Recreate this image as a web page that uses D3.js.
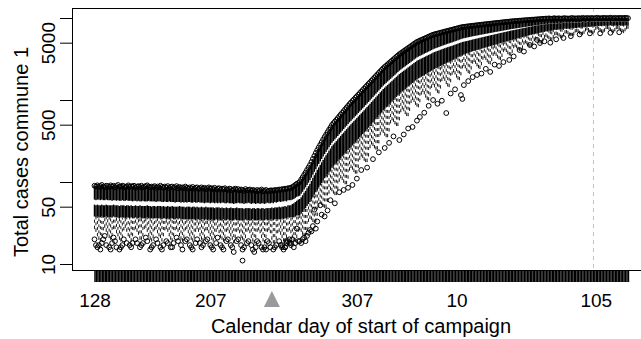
<!DOCTYPE html>
<html><head><meta charset="utf-8">
<script src="https://cdn.jsdelivr.net/npm/d3@7"></script>
<style>html,body{margin:0;padding:0;background:#fff;}svg{display:block;}</style>
</head><body>
<svg id="c" width="641" height="339"></svg>
<script>
// ---- categories: calendar day of start of campaign (128..365, then 1..127)
const days = d3.range(128, 366).concat(d3.range(1, 128));
const tickDays = [128, 207, 307, 10, 105];
const yTickValues = [10, 50, 100, 500, 1000, 5000, 10000];
const yTickLabels = ["10", "50", "", "500", "", "5000", ""];
const campaignDay = 249;   // grey arrow
const markerDay = 103;     // dashed grey line

// ---- per-day box statistics (total cases)
const upperMax = [
90,88,91,87,89,92,88,86,90,89,87,91,88,90,86,89,92,87,88,90,
89,86,88,91,87,89,88,90,85,88,89,87,90,86,88,89,91,87,86,88,
87,89,85,88,86,90,87,85,88,86,89,84,87,88,85,86,89,84,87,85,
86,84,88,85,83,86,84,87,83,85,86,82,84,86,83,85,82,84,86,83,
84,82,85,81,83,84,80,83,82,84,81,80,83,82,79,81,83,80,82,79,
81,80,78,82,79,80,81,78,80,79,77,80,78,79,81,77,78,80,77,78,79,
79,78,80,79,80,81,80,82,81,83,82,84,84,
85,87,89,92,95,97,100,107,114,122,130,140,150,161,
175,191,208,226,245,264,284,306,330,354,
378,405,433,462,495,520,546,573,601,631,664,697,731,769,807,847,891,
931,973,1016,1062,1109,1159,1211,1265,1321,1380,1442,1507,
1574,1644,1718,1795,1875,1959,2046,2138,2234,2333,2438,
2529,2618,2716,2812,2917,3020,3133,3243,3365,3483,3614,
3715,3828,3936,4055,4169,4295,4416,4550,4677,4819,4955,5105,
5200,5297,5395,5495,5598,5702,5808,5916,6026,6138,6252,
6324,6397,6457,6531,6607,6668,6745,6823,6902,6966,7047,7129,7194,7278,7362,7430,7516,7603,7674,7762,
7800,7840,7880,7920,7960,8000,8040,8080,8120,8160,8200,8240,8280,8320,8360,8400,8440,8480,8520,8560,
8600,8640,8680,8720,8760,8800,8840,8880,8920,8960,9000,9040,9080,9120,
9150,9180,9210,9240,9270,9300,9330,9360,9390,9420,9450,9480,9510,9540,9570,9600,9630,9660,9690,
9720,9800,9750,9850,9780,9900,9820,9760,9880,9940,9800,9860,9920,9780,9850,9900,9960,9820,9880,9790,
9940,10000,9860,9910,9830,9970,9900,9850,10050,9920,9880,9990,9950,9870,10020,9930,9890,9980,10060,9910,
9960,9880,10030,9940,10000,9900,9970,10080,9950,9920,10010,9980,9900,10040,9960,10000,9930,10050,9990,9950
];
const upperMin = [
61,60,61,61,60,61,60,60,61,60,60,60,59,60,60,59,60,59,59,60,
59,59,60,59,59,59,58,59,59,58,59,58,58,59,58,58,58,59,58,58,
58,58,57,58,58,58,57,57,58,57,57,58,57,57,57,56,57,57,57,56,
57,56,57,56,57,57,56,56,57,56,56,57,56,56,56,55,56,56,56,55,
56,56,55,56,55,56,55,56,56,55,55,56,55,55,55,54,55,55,56,55,
55,55,54,55,55,56,55,54,55,55,54,55,55,54,55,55,54,55,56,55,55,
56,55,57,56,57,58,57,58,58,59,58,60,60,
60,61,62,64,66,67,68,72,76,81,86,92,98,105,
113,123,133,143,155,166,178,191,205,219,
233,248,265,282,301,316,331,347,364,382,401,421,441,463,485,509,534,
557,582,608,635,663,694,725,757,791,826,867,906,
946,990,1039,1086,1136,1190,1245,1305,1367,1430,1498,
1558,1617,1680,1743,1812,1881,1955,2028,2110,2190,2280,
2350,2430,2500,2580,2660,2750,2830,2920,3010,3110,3200,3310,
3380,3450,3520,3590,3670,3750,3820,3900,3980,4060,4160,
4230,4300,4360,4430,4500,4570,4640,4710,4780,4850,4920,4980,
5043,5124,5205,5275,5359,5444,5518,5604,5663,5715,5768,5821,5874,5928,5982,6028,6074,6120,6166,6221,
6268,6315,6370,6418,6465,6513,6569,6617,6665,6722,6770,6819,6877,6926,6975,7033,7082,7132,7191,7241,
7300,7351,7402,7445,7497,7540,7592,7645,7688,7741,7784,7837,7891,7944,7988,8042,8096,8141,8186,8230,
8275,8320,8408,8385,8501,8460,8583,8534,8501,8625,8698,8595,8667,8749,8636,8707,8762,8825,8720,8783,
8713,8857,8920,8815,8869,8808,8943,8890,8855,9045,8948,8922,9031,9005,8942,9088,9016,9000,9092,9175,
9048,9103,9040,9180,9090,9150,9060,9120,9220,9100,9080,9160,9130,9060,9190,9110,9150,9090,9200,9140,9100
];
const q3 = [
53,52,53,52,52,53,52,52,53,52,52,52,52,53,52,52,52,51,52,52,
52,51,52,52,51,52,51,51,52,51,51,52,51,51,51,51,52,51,51,50,
51,51,50,51,51,51,50,51,50,50,51,50,50,51,50,50,50,50,51,50,
50,50,49,50,50,50,49,50,50,49,50,49,49,50,49,49,50,49,49,49,
49,49,48,49,49,49,48,49,48,48,49,48,48,49,48,48,48,49,48,48,
48,48,47,48,48,48,48,47,48,48,47,48,48,47,48,48,47,48,48,48,48,
49,48,49,49,49,50,49,50,50,51,50,52,52,
52,54,55,57,59,61,62,65,69,74,78,84,89,95,
103,112,121,130,141,151,162,174,186,199,
212,225,241,256,274,287,301,315,331,347,365,383,401,421,441,463,485,
506,529,553,577,603,631,659,688,719,751,788,824,
860,900,945,987,1033,1082,1132,1186,1243,1300,1362,
1416,1470,1527,1585,1647,1710,1777,1844,1918,1991,2073,
2136,2209,2273,2345,2418,2500,2573,2655,2736,2827,2909,3009,
3073,3136,3200,3264,3336,3409,3473,3545,3618,3691,3782,
3845,3909,3964,4027,4091,4155,4218,4282,4345,4409,4473,4527,
4585,4658,4732,4795,4872,4949,5016,5095,5148,5195,5244,5292,
5350,5409,5468,5520,5572,5625,5678,5739,5793,5847,
5909,5965,6020,6076,6139,6196,6252,6318,6375,6433,
6500,6559,6618,6685,6745,6805,6875,6936,7006,7068,
7131,7186,7250,7306,7371,7437,7493,7560,7616,7683,
7752,7819,7878,7947,8016,8083,8128,8172,
8227,8272,8359,8336,8451,8411,8534,8484,8452,8576,8658,8555,8628,8710,8597,8668,8722,8785,8681,8744,
8674,8817,8890,8775,8830,8768,8903,8851,8816,9005,8908,8882,8991,8965,8913,9058,8987,8960,9052,9134,
9008,9074,9010,9150,9070,9120,9030,9090,9190,9070,9050,9130,9100,9030,9160,9080,9120,9060,9170,9110,9070
];
const q1 = [
38,37,38,37,37,38,37,37,38,37,37,37,37,38,37,37,37,36,37,37,
37,36,37,37,36,37,36,36,37,36,36,37,36,36,36,36,37,36,36,36,
36,36,36,36,36,36,35,36,36,35,36,35,36,36,35,35,36,35,36,35,
35,35,35,35,35,35,35,35,35,34,35,35,34,35,35,34,35,34,35,34,
35,34,34,35,34,35,34,34,35,34,34,35,34,34,34,34,35,34,34,34,
34,34,34,35,34,34,34,34,35,34,34,34,34,35,34,34,34,35,34,34,35,
35,34,35,35,35,35,35,36,35,36,36,37,37,
37,37,37,38,39,39,39,41,43,46,48,51,54,57,
61,65,70,75,80,86,91,97,104,111,
116,124,132,140,149,155,163,170,178,187,196,205,214,225,235,246,257,
267,279,292,306,319,334,350,366,383,400,420,439,
460,482,507,531,557,586,616,646,679,714,748,
779,812,847,883,922,960,1003,1044,1090,1135,1185,
1226,1271,1315,1362,1409,1460,1510,1565,1614,1672,1729,1792,
1830,1875,1921,1967,2015,2064,2114,2159,2212,2277,2342,
2390,2444,2486,2541,2590,2641,2698,2756,2809,2863,2924,2987,
3043,3108,3180,3247,3315,3383,3453,3532,3580,3638,3704,3754,3813,3872,3924,3967,4019,4064,4116,4169,
4215,4268,4322,4376,4423,4477,4533,4588,4644,4700,4757,4813,4871,4928,4986,5044,5102,5161,5220,5288,
5348,5408,5463,5536,5590,5646,5720,5775,5841,5906,5972,6038,6105,6171,6239,6306,6374,6432,6491,6549,
6609,6668,6762,6767,6885,6875,6999,6982,6978,7104,7197,7134,7218,7311,7237,7309,7366,7430,7355,7420,
7372,7515,7590,7503,7561,7530,7657,7623,7604,7789,7718,7706,7812,7811,7768,7906,7865,7863,7954,8048,
7948,8008,7970,8090,8020,8070,7990,8050,8140,8030,8010,8080,8060,7990,8110,8040,8070,8020,8110,8070,8030
];
const whiskerLow = [
27,25,22,20,19,22,26, 28,25,23,21,20,22,27, 27,24,22,20,19,21,26, 28,25,22,21,19,22,26,
27,25,23,20,20,22,27, 28,25,22,20,19,21,26, 27,24,22,21,19,22,26, 27,25,22,20,19,22,26,
27,25,22,20,19,21,26, 27,24,22,20,19,21,25, 27,25,22,20,19,21,26, 26,24,22,20,19,21,25,
27,24,21,20,19,21,25, 26,24,22,20,18,21,25, 26,24,21,20,19,21,25, 26,24,21,19,18,21,25,
26,24,21,19,18,21,25, 26,24,
20,18,18,20,24,25,23,21,19,19,21,25,26,
24,21,19,19,21,25,26,25,23,22,22,26,33,36,
35,33,32,33,39,50,55,53,50,49,
49,58,73,81,78,73,70,70,81,102,112,107,99,95,95,111,139,
150,143,134,128,128,150,189,207,198,184,177,177,
207,262,290,278,260,251,252,299,377,417,401,
372,356,355,417,524,572,548,510,489,488,571,
717,779,740,682,647,641,744,932,1012,959,884,840,
824,950,1176,1264,1184,1081,1018,996,1143,1422,1539,
1442,1318,1236,1212,1395,1721,1843,1733,1579,1479,1453,1664,
2057,2196,2069,1899,1795,1764,2020,2452,2603,2456,
2272,2153,2110,2378,2809,2952,2796,2597,2472,2423,
2682,3132,3291,3129,2920,2790,2747,3021,3491,3659,
3495,3280,3148,3104,3393,3886,4062,3896,3677,3544,
3503,3810,4316,4509,4338,4110,3987,3946,4258,4791,
4981,4813,4602,4469,4438,4771,5303,5495,5318,5087,
4949,4914,5256,5731,5973,5751,5590,5402,5327,5688,
6222,6304,6172,6001,5761,5738,6040,6519,6583,6434,
6143,6087,6070,6242,6728,6821,6721,6430,6243,6299,
6500,6944,7175,6943,6635,6575,6443,6709,7261,7480,
7159,6931,6699,6693,6890,7398,7452,7257,7038,6752,
6627,6939,7388,7452,7308,6950,6781,6627,6969,7388,
7484
];
// low outliers: [position in days list, total cases]
const lowOutliers = [
[0,20],[1,17],[2,16],[3,17],[4,15],[5,18],[6,20],[7,22],[8,17],[10,16],[11,15],[12,18],[13,21],[14,19],[15,16],[17,15],[18,16],[19,17],[20,20],[22,18],[24,17],[25,16],[26,18],[28,20],[29,18],[31,16],[32,17],[33,18],[35,21],[36,19],[38,15],[39,16],[40,17],[42,20],[43,18],[45,16],[46,15],[47,17],[49,19],[50,18],[52,16],[53,16],[54,18],[56,21],[57,19],[59,17],[60,15],[62,19],[63,20],[65,17],[66,16],[67,15],[69,18],[70,20],[72,18],[73,16],[74,17],[76,19],[77,20],[79,17],[80,16],[81,15],[83,18],[84,21],[86,17],[87,16],[88,15],[90,19],[91,20],[93,17],[94,16],[95,14],[97,19],[98,20],[100,17],[101,11],[101,15],[102,16],[104,18],[105,19],[107,17],[108,15],[109,14],[110,16],[111,19],[112,18],[114,16],[115,15],[116,16],[117,15],[118,19],[119,18],[120,16],[122,15],[123,16],[124,17],[126,19],[127,17],[128,16],[129,15],[130,16],[131,18],[132,19],[133,20],[134,18],
[128,17],[130,16],[131,19],[133,18],[134,17],[135,20],[136,16],[137,18],[138,27],[139,19],[140,19],[141,18],[142,20],[143,21],[144,19],[145,22],[146,24],[147,26],[148,25],[149,29],[150,46],[151,27],[152,33],[154,52],[155,40],[157,38],[159,45],[161,60],[164,55],[167,75],[170,80],[173,85],[176,92],[179,110],[182,140],[186,150],[190,190],[194,230],[198,260],[201,300],[204,360],[208,325],[211,380],[214,450],[217,469],[220,560],[222,621],[225,700],[228,850],[231,1000],[234,900],[237,980],[240,693],[243,1200],[246,1350],[250,1150],[251,1030],[252,1520],[255,1700],[258,1900],[261,2020],[264,2100],[267,2400],[270,2200],[273,2700],[276,2600],[279,2900],[283,3080],[286,3400],[290,4070],[293,3900],[297,4690],[300,4500],[302,5400],[304,4950],[307,5200],[311,5000],[315,5500],[320,5700],[325,6000],[331,6300],[338,6500],[345,6500],[352,6600],[358,6700]
];

// ---- drawing
const W = 641, H = 339;
const FONT = "'Liberation Sans', Arial, Helvetica, sans-serif";
const plot = {left: 72, top: 8, right: 720, bottom: 270};
const svg = d3.select("#c");
svg.append("rect").attr("width", W).attr("height", H).attr("fill", "#fff");

const x = d3.scalePoint().domain(days).range([94.5, 628]);
const step = x.step();
const y = d3.scaleLog().domain([10, 10000]).range([264, 18]);

svg.append("defs").append("clipPath").attr("id", "clip")
  .append("rect").attr("x", plot.left).attr("y", plot.top)
  .attr("width", plot.right - plot.left).attr("height", plot.bottom - plot.top);

const g = svg.append("g").attr("clip-path", "url(#clip)");

// dashed marker line
const xm = Math.round(x(markerDay)) + 0.5;
g.append("line").attr("x1", xm).attr("x2", xm).attr("y1", plot.top).attr("y2", plot.bottom)
  .attr("stroke", "#c4c4c4").attr("stroke-width", 1).attr("stroke-dasharray", "4,4");

const rows = days.map((d, i) => ({day: d, hi: upperMax[i], lo: upperMin[i], q3: q3[i], q1: q1[i], wl: whiskerLow[i]}))
  .filter(r => r.hi != null && r.lo != null && r.q3 != null && r.q1 != null && r.wl != null);

// lower whiskers (dashed, drawn from the whisker end towards the box)
g.append("g").selectAll("line").data(rows).join("line")
  .attr("x1", d => x(d.day)).attr("x2", d => x(d.day))
  .attr("y1", d => y(d.wl)).attr("y2", d => y(d.q1))
  .attr("stroke", "#000").attr("stroke-width", 0.9).attr("stroke-dasharray", "3,3");
// staples
g.append("g").selectAll("line").data(rows).join("line")
  .attr("x1", d => x(d.day) - step * 0.3).attr("x2", d => x(d.day) + step * 0.3)
  .attr("y1", d => y(d.wl)).attr("y2", d => y(d.wl))
  .attr("stroke", "#000").attr("stroke-width", 0.8);
// boxes
g.append("g").selectAll("rect").data(rows).join("rect")
  .attr("x", d => x(d.day) - step / 2).attr("width", step)
  .attr("y", d => y(d.q3)).attr("height", d => Math.max(0.5, y(d.q1) - y(d.q3)))
  .attr("fill", "#000");
// upper outlier band
g.append("g").selectAll("rect").data(rows).join("rect")
  .attr("x", d => x(d.day) - step / 2).attr("width", step)
  .attr("y", d => y(d.hi)).attr("height", d => Math.max(0.5, y(d.lo) - y(d.hi)))
  .attr("fill", "#000");
g.append("g").selectAll("circle").data(rows).join("circle")
  .attr("cx", d => x(d.day)).attr("cy", d => y(d.hi)).attr("r", 2.4)
  .attr("fill", "none").attr("stroke", "#000").attr("stroke-width", 1);
// low outliers
g.append("g").selectAll("circle").data(lowOutliers).join("circle")
  .attr("cx", d => x(days[d[0]])).attr("cy", d => y(d[1])).attr("r", 2.4)
  .attr("fill", "none").attr("stroke", "#000").attr("stroke-width", 1);

// plot frame
svg.append("rect").attr("x", plot.left + 0.5).attr("y", plot.top + 0.5)
  .attr("width", plot.right - plot.left).attr("height", plot.bottom - plot.top)
  .attr("fill", "none").attr("stroke", "#000").attr("stroke-width", 1);

// y axis
const yAxis = d3.axisLeft(y).tickValues(yTickValues)
  .tickFormat((d, i) => yTickLabels[i]).tickSize(12).tickSizeOuter(0);
const gy = svg.append("g").attr("transform", `translate(${plot.left},0)`).call(yAxis)
  .attr("font-family", FONT).attr("font-size", 19);
gy.select(".domain").remove();
gy.selectAll(".tick line").attr("stroke", "#000");
gy.selectAll(".tick text").attr("x", 0).attr("y", 0).attr("dy", 0)
  .attr("text-anchor", "middle").attr("fill", "#000")
  .attr("transform", "translate(-17,0) rotate(-90)");

// x axis
const xAxis = d3.axisBottom(x).tickValues(days)
  .tickFormat(d => tickDays.includes(d) ? String(d) : "").tickSize(12).tickSizeOuter(0);
const gx = svg.append("g").attr("transform", `translate(0,${plot.bottom})`).call(xAxis)
  .attr("font-family", FONT).attr("font-size", 19);
gx.selectAll(".tick line").attr("stroke", "#000").attr("stroke-width", 1.45);
gx.select(".domain").attr("stroke", "#000");
gx.selectAll(".tick text").attr("y", 37).attr("dy", 0).attr("fill", "#000");

// campaign arrow
const xa = x(campaignDay);
svg.append("path")
  .attr("d", `M${xa},291 L${xa - 8},307 L${xa + 8},307 Z`)
  .attr("fill", "#9a9a9a");

// titles
svg.append("text").attr("x", 361).attr("y", 333).attr("text-anchor", "middle")
  .attr("font-family", FONT).attr("font-size", 20).attr("fill", "#000")
  .text("Calendar day of start of campaign");
svg.append("text").attr("transform", "translate(28,152) rotate(-90)").attr("text-anchor", "middle")
  .attr("font-family", FONT).attr("font-size", 20).attr("fill", "#000")
  .text("Total cases commune 1");
</script>
</body></html>
